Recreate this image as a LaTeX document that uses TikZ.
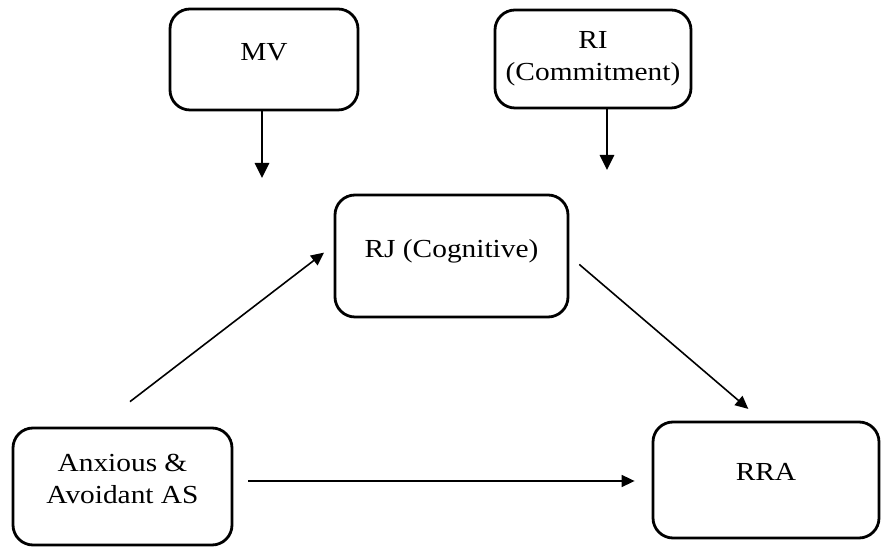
\documentclass[tikz,border=0pt]{standalone}
\usepackage{fontspec}
\setmainfont{Liberation Serif}[FakeStretch=1.13]
\usetikzlibrary{arrows.meta}

\begin{document}
\begin{tikzpicture}[x=1pt, y=1pt, >={Triangle[length=13pt,width=12pt]},
  var/.style={draw, rounded corners=20pt, line width=2.8pt, align=center,
              font=\fontsize{26}{32}\selectfont},
  bold/.style={->, line width=2.8pt, >={Triangle[length=15pt,width=14pt]}},
  plain/.style={->, line width=1.6pt}]
  \useasboundingbox (0,0) rectangle (881,548);

  \node[var, minimum width=188pt, minimum height=101pt, text depth=16pt] (MV)  at (264,488.5) {MV};
  \node[var, minimum width=196pt, minimum height=98pt, text height=50pt, text depth=6pt] (RI) at (593,489) {RI\\(Commitment)};
  \node[var, minimum width=233pt, minimum height=122pt, text depth=16pt] (RJ)  at (451.5,292) {RJ (Cognitive)};
  \node[var, minimum width=219pt, minimum height=117pt, text height=50pt, text depth=16pt] (AS) at (122.5,61.5) {Anxious \&\\Avoidant AS};
  \node[var, minimum width=226pt, minimum height=116pt, text depth=16pt] (RRA) at (766,68) {RRA};

  \coordinate (MVend) at (262,370); % Pfeil endet frei ueber RJ
  \coordinate (RIend) at (607,378);

  \path (MVend |- MV.south) edge [bold] (MVend)
        (RIend |- RI.south) edge [bold] (RIend)
        ([xshift=-25pt]AS.north) edge [plain, shorten <=41pt, shorten >=12pt] ([yshift=10.7pt]RJ.west)
        (RJ.east)  edge [plain, shorten <=13pt, shorten >=18pt] ([xshift=-4pt]RRA.north)
        ([yshift=5.5pt]AS.east) edge [plain, shorten <=15pt, shorten >=17pt] ([yshift=-1pt]RRA.west)
        ;
\end{tikzpicture}
\end{document}
